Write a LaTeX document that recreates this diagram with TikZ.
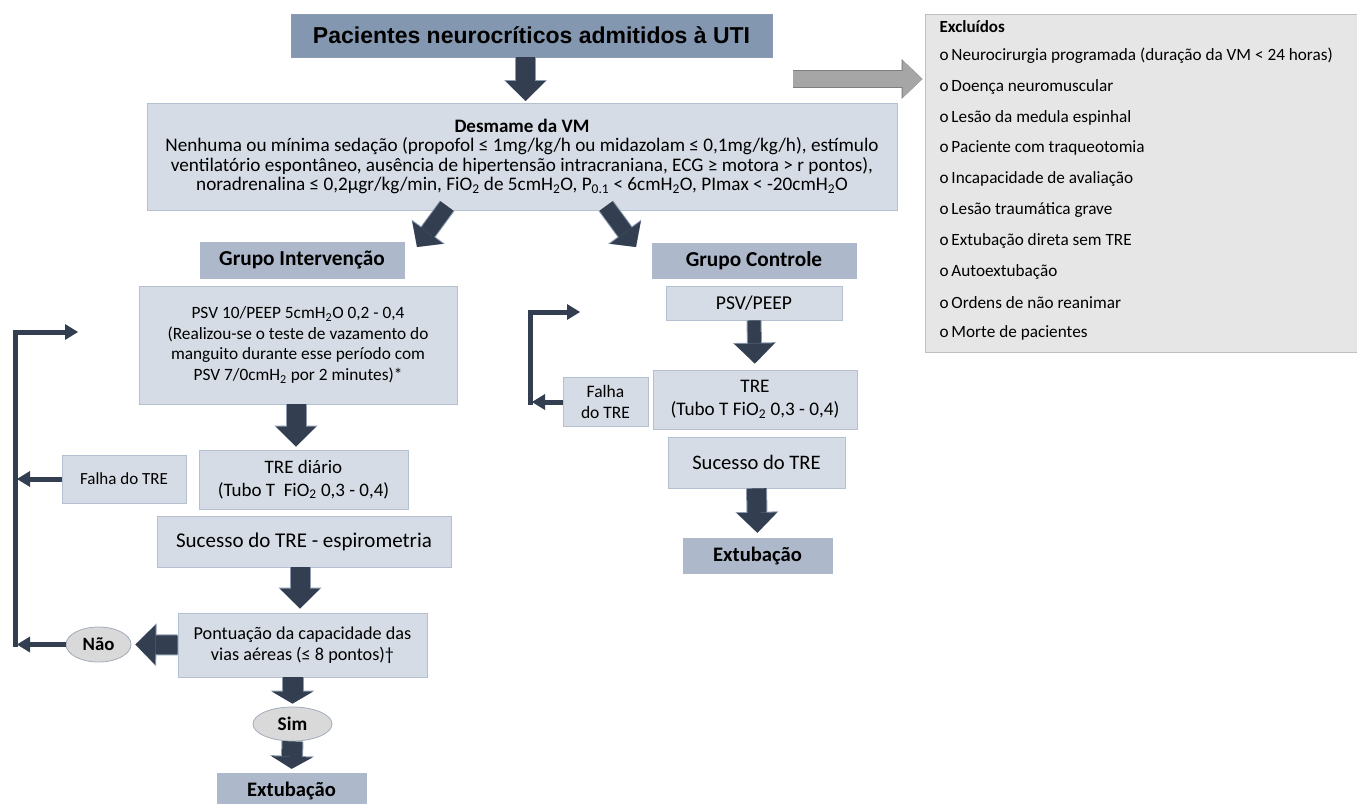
\documentclass[tikz,border=0pt]{standalone}
\usepackage{fontspec}
\setmainfont{Carlito}
\newfontfamily\titlefont{Liberation Sans}
\usetikzlibrary{arrows.meta,calc,shapes.geometric}

\definecolor{titlefill}{HTML}{8497B0}
\definecolor{headfill}{HTML}{ADB9CA}
\definecolor{boxfill}{HTML}{D6DCE5}
\definecolor{boxedge}{HTML}{B4BFD0}
\definecolor{arrowdark}{HTML}{333F50}
\definecolor{arrowedge}{HTML}{8D9BB0}
\definecolor{exfill}{HTML}{E7E6E6}
\definecolor{exedge}{HTML}{BFBFBF}
\definecolor{ovalfill}{HTML}{D9D9D9}
\definecolor{ovaledge}{HTML}{A2ABBA}
\definecolor{grayfill}{HTML}{A6A6A6}
\definecolor{grayedge}{HTML}{7F7F7F}

\newcommand{\fsz}[2]{\fontsize{#1}{#2}\selectfont}

\begin{document}
\begin{tikzpicture}[x=1pt,y=-1pt,
    box/.style={draw=boxedge, fill=boxfill, line width=0.8pt, align=center, inner sep=0pt},
    headbox/.style={draw=headfill, fill=headfill, inner sep=0pt, font=\bfseries\fsz{21.3}{25}},
    oval/.style={ellipse, draw=ovaledge, fill=ovalfill, line width=0.8pt, inner sep=0pt},
    fat/.style={draw=arrowdark, line width=#1,
        -{Triangle[length=20pt,width=40pt,line width=0pt]},
        preaction={draw=arrowedge, line width=#1+2, -{Triangle[length=21pt,width=43pt,line width=0pt]}}},
    fat/.default=19,
    fatshort/.style={draw=arrowdark, line width=20pt,
        -{Triangle[length=12pt,width=41pt,line width=0pt]},
        preaction={draw=arrowedge, line width=22pt, -{Triangle[length=13pt,width=44pt,line width=0pt]}}},
    diag/.style={draw=arrowdark, line width=16pt,
        -{Triangle[length=18pt,width=38pt,line width=0pt]},
        preaction={draw=arrowedge, line width=18pt, -{Triangle[length=19pt,width=41pt,line width=0pt]}}},
    loopline/.style={draw=arrowdark, line width=5pt, -{Triangle[length=13pt,width=16pt,line width=0pt]}}]

    \useasboundingbox (0,0) rectangle (1357,803);

    % top of the chart
    \node[draw=arrowedge, fill=titlefill, inner sep=0pt, minimum width=481, minimum height=43,
        font=\titlefont\bfseries\fsz{23}{27}] (titulo) at (531.5,35.5) {Pacientes neurocríticos admitidos à UTI};

    \node[box, minimum width=750, minimum height=107, font=\fsz{19.2}{19.5}] (vm) at (522,156.5)
        {{\bfseries\fsz{19}{19.5}Desmame da VM}\\
         Nenhuma ou mínima sedação (propofol ≤ 1mg/kg/h ou midazolam ≤ 0,1mg/kg/h), estímulo\\
         ventilatório espontâneo, ausência de hipertensão intracraniana, ECG ≥ motora > r pontos),\\
         noradrenalina ≤ 0,2µgr/kg/min, FiO\textsubscript{2} de 5cmH\textsubscript{2}O, P\textsubscript{0.1} < 6cmH\textsubscript{2}O, PImax < -20cmH\textsubscript{2}O};

    \coordinate (vmtop) at (525.5,101);
    \draw[fat] (titulo.south -| vmtop) -- (vmtop);

    % excluded patients
    \node[draw=exedge, fill=exfill, line width=0.8pt, minimum width=432, minimum height=338,
        anchor=north west] (excl) at (924.5,14) {};
    \node[anchor=west, font=\bfseries\fsz{17}{20}] (exT) at (936,27) {Excluídos};
    \foreach \t [count=\i] in {Neurocirurgia programada (duração da VM < 24 horas),
        Doença neuromuscular, Lesão da medula espinhal, Paciente com traqueotomia,
        Incapacidade de avaliação, Lesão traumática grave, Extubação direta sem TRE,
        Autoextubação, Ordens de não reanimar, Morte de pacientes} {
        \node[anchor=west, font=\fsz{17.2}{20}] (ex\i) at (936,25.2+30.8*\i) {o\,\t};
    }

    \coordinate (exa) at (793,79);
    \draw[draw=grayfill, line width=16pt, -{Triangle[length=20pt,width=37pt,line width=0pt]},
        preaction={draw=grayedge, line width=18pt, -{Triangle[length=21pt,width=40pt,line width=0pt]}}]
        (exa) -- ($(excl.west |- exa)+(-2,0)$);

    % the two groups
    \coordinate (dl0) at (447,206);
    \coordinate (dl1) at (417,247);
    \coordinate (dr0) at (606,206);
    \coordinate (dr1) at (636,247);
    \draw[diag] (dl0) -- (dl1);
    \draw[diag] (dr0) -- (dr1);

    \node[headbox, minimum width=204, minimum height=36] (gi) at (302,260) {Grupo Intervenção};
    \node[headbox, minimum width=204, minimum height=35] (gc) at (754,260.5) {Grupo Controle};

    % intervention branch
    \node[box, minimum width=318, minimum height=118, font=\fsz{17.3}{20.7}] (psv) at (298,345)
        {PSV 10/PEEP 5cmH\textsubscript{2}O 0,2 - 0,4\\
         (Realizou-se o teste de vazamento do\\
         manguito durante esse período com\\
         PSV 7/0cmH\textsubscript{2} por 2 minutes)*};
    \node[box, minimum width=209, minimum height=59, font=\fsz{19}{23}] (tred) at (303.5,479.5)
        {TRE diário\\(Tubo T\ \ FiO\textsubscript{2} 0,3 - 0,4)};
    \node[box, minimum width=124, minimum height=48, font=\fsz{17}{20}] (falhaL) at (124,479) {Falha do TRE};
    \node[box, minimum width=294, minimum height=51, font=\fsz{21}{24}] (suce) at (304,541.5)
        {Sucesso do TRE - espirometria};
    \node[box, minimum width=249, minimum height=64, font=\fsz{18.2}{21}] (pont) at (302.5,645)
        {Pontuação da capacidade das\\vias aéreas (≤ 8 pontos)†};
    \node[oval, minimum width=65, minimum height=35, font=\bfseries\fsz{18.8}{21}] (nao) at (98.5,644.5) {Não};
    \node[oval, minimum width=79, minimum height=34, font=\bfseries\fsz{19.3}{22}] (sim) at (292.5,724) {Sim};
    \node[headbox, minimum width=149, minimum height=35, font=\bfseries\fsz{20.6}{24}] (extL) at (291.5,790.5) {Extubação};

    \draw[fat, shorten >=3pt] (psv.south -| 296,0) -- (tred.north -| 296,0);
    \draw[fat, shorten >=4pt] (suce.south -| 300,0) -- (pont.north -| 300,0);
    \draw[fat, shorten >=4pt] (pont.west) -- (nao.east);
    \draw[fatshort, shorten >=3pt] (pont.south -| sim) -- (sim.north);
    \draw[fatshort, shorten >=4pt] (sim.south) -- (extL.north);

    \coordinate (lb) at (15,647);
    \coordinate (lt) at (78,332);
    \draw[loopline] (lb) |- (lt);
    \draw[loopline, shorten >=2pt] (falhaL.west) -- (falhaL.west -| lb);
    \draw[loopline, shorten >=2pt] (nao.west) -- (nao.west -| lb);

    % control branch
    \node[box, minimum width=176, minimum height=34, font=\fsz{19.6}{22}] (peep) at (754,303) {PSV/PEEP};
    \node[box, minimum width=204, minimum height=59, font=\fsz{19.2}{23}] (treR) at (755,399.5)
        {TRE\\(Tubo T FiO\textsubscript{2} 0,3 - 0,4)};
    \node[box, minimum width=85, minimum height=49, font=\fsz{17.5}{21}] (falhaR) at (605.5,402) {Falha\\do TRE};
    \node[box, minimum width=177, minimum height=51, font=\fsz{20.6}{24}] (suceR) at (756.5,462.5) {Sucesso do TRE};
    \node[headbox, minimum width=149, minimum height=35, font=\bfseries\fsz{20.6}{24}] (extR) at (757.5,555.5) {Extubação};

    \draw[fat=13, shorten >=6pt] (peep.south) -- (treR.north);
    \draw[fat, shorten >=5pt] (suceR.south) -- (extR.north);

    \coordinate (rb) at (530,404.5);
    \coordinate (rt) at (580,312);
    \draw[loopline] (rb) |- (rt);
    \draw[loopline, shorten >=2pt] (falhaR.west) -- (falhaR.west -| rb);

\end{tikzpicture}
\end{document}
